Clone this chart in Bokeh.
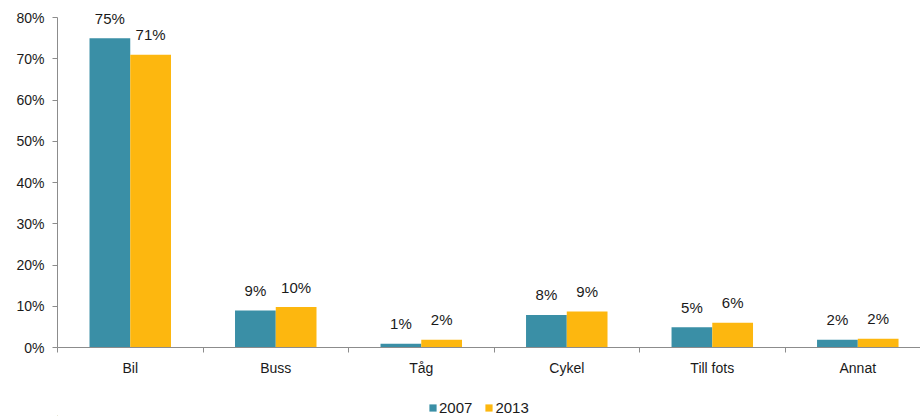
from bokeh.plotting import figure
from bokeh.layouts import column
from bokeh.models import (ColumnDataSource, Range1d, FixedTicker, PrintfTickFormatter,
                          Legend, LegendItem, LinearAxis)
from bokeh.core.properties import value
from bokeh.embed import file_html
from bokeh.resources import INLINE

categories = ["Bil", "Buss", "Tåg", "Cykel", "Till fots", "Annat"]
years = ["2007", "2013"]
values_2007 = [75.0, 9.0, 0.9, 7.9, 4.9, 1.9]
values_2013 = [71.0, 9.8, 1.9, 8.7, 6.0, 2.1]
y_ticks = [0, 10, 20, 30, 40, 50, 60, 70, 80]

col_2007 = "#3A8FA6"
col_2013 = "#FDB70F"
axis_col = "#8C8C8C"
FONT = "Liberation Sans"

n = len(categories)
centers = [i + 0.5 for i in range(n)]
bw = 0.28
x07 = [c - bw / 2 for c in centers]
x13 = [c + bw / 2 for c in centers]

src07 = ColumnDataSource(dict(x=x07, top=values_2007,
                              lab=["%d%%" % round(v) for v in values_2007]))
src13 = ColumnDataSource(dict(x=x13, top=values_2013,
                              lab=["%d%%" % round(v) for v in values_2013]))

# frame spans 0..347 px vertically; 0..80 occupies the lower 330 px
p = figure(width=920, height=390, output_backend="svg", toolbar_location=None,
           x_range=Range1d(0, 5.931), y_range=Range1d(0, 80 * 347 / 330),
           x_axis_type=None, y_axis_type=None,
           min_border_left=57, min_border_right=0, min_border_top=0,
           min_border_bottom=43)
p.outline_line_color = None
p.xgrid.visible = False
p.ygrid.visible = False

r07 = p.vbar(x="x", top="top", width=bw, source=src07, fill_color=col_2007,
             line_color=None)
r13 = p.vbar(x="x", top="top", width=bw, source=src13, fill_color=col_2013,
             line_color=None)

for src in (src07, src13):
    p.text(x="x", y="top", text="lab", source=src, text_align="center",
           text_baseline="middle", y_offset=-20, text_font=value(FONT),
           text_font_size="15px", text_color="#1a1a1a")

# y axis
ya = LinearAxis(ticker=FixedTicker(ticks=y_ticks),
                formatter=PrintfTickFormatter(format="%d%%"), bounds=(0, 80))
ya.axis_line_color = axis_col
ya.major_tick_line_color = axis_col
ya.major_tick_out = 5
ya.major_tick_in = 0
ya.minor_tick_line_color = None
ya.major_label_standoff = 8
ya.major_label_text_font = FONT
ya.major_label_text_font_size = "14px"
ya.major_label_text_color = "#1a1a1a"
p.add_layout(ya, "left")

# x axis
xa = LinearAxis(ticker=FixedTicker(ticks=centers, minor_ticks=list(range(n + 1))))
xa.major_label_overrides = {c: categories[i] for i, c in enumerate(centers)}
xa.axis_line_color = axis_col
xa.major_tick_line_color = None
xa.major_tick_out = 0
xa.major_tick_in = 0
xa.minor_tick_line_color = axis_col
xa.minor_tick_out = 5
xa.minor_tick_in = 0
xa.major_label_standoff = 7
xa.major_label_text_font = FONT
xa.major_label_text_font_size = "14px"
xa.major_label_text_color = "#1a1a1a"
p.add_layout(xa, "below")

# legend strip (its renderers sit outside the visible range)
q = figure(width=920, height=26, output_backend="svg", toolbar_location=None,
           x_range=Range1d(0, 920), y_range=Range1d(0, 26),
           x_axis_type=None, y_axis_type=None,
           min_border_left=0, min_border_right=0, min_border_top=0,
           min_border_bottom=0)
q.outline_line_color = None
q.xgrid.visible = False
q.ygrid.visible = False
l07 = q.vbar(x=[-1000], top=[1], width=1, fill_color=col_2007, line_color=None)
l13 = q.vbar(x=[-1000], top=[1], width=1, fill_color=col_2013, line_color=None)

legend = Legend(items=[LegendItem(label=years[0], renderers=[l07]),
                       LegendItem(label=years[1], renderers=[l13])],
                orientation="horizontal", location=(371, 0))
legend.glyph_width = 9
legend.glyph_height = 9
legend.label_standoff = 2
legend.spacing = 12
legend.padding = 0
legend.margin = 0
legend.border_line_color = None
legend.background_fill_alpha = 0
legend.label_text_font = FONT
legend.label_text_font_size = "15px"
legend.label_text_color = "#1a1a1a"
legend.label_height = 14
q.add_layout(legend, "center")

layout = column(p, q, spacing=0)
open("out.html", "w").write(file_html(layout, INLINE))
